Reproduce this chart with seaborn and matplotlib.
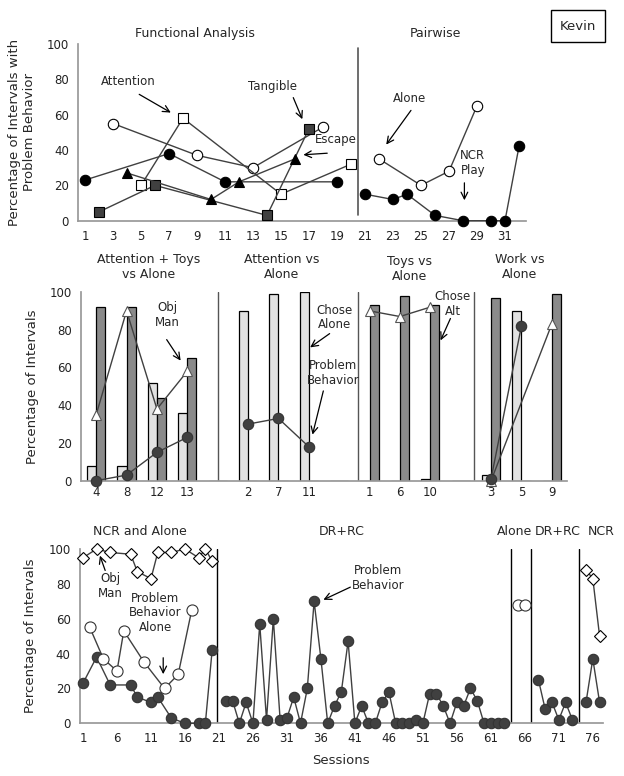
import numpy as np
import pandas as pd
import matplotlib
matplotlib.use("Agg")
import matplotlib.pyplot as plt
import seaborn as sns

sns.set_theme(style="white")
plt.rcParams["font.family"] = ["DejaVu Sans"]
FS = 8.5

# ---- top: functional analysis + pairwise ----
fa_play_x = [1, 7, 11, 19]
fa_play_y = [23, 38, 22, 22]
fa_alone_x = [3, 9, 13, 18]
fa_alone_y = [55, 37, 30, 53]
fa_attn_x = [5, 8, 15, 20]
fa_attn_y = [20, 58, 15, 32]
fa_tang_x = [2, 6, 14, 17]
fa_tang_y = [5, 20, 3, 52]
fa_esc_x = [4, 10, 12, 16]
fa_esc_y = [27, 12, 22, 35]
pw_alone_x = [22, 25, 27, 29]
pw_alone_y = [35, 20, 28, 65]
pw_ncr_x = [21, 23, 24, 26, 28, 30, 31, 32]
pw_ncr_y = [15, 12, 15, 3, 0, 0, 0, 42]

# ---- middle: choice assessment ----
choice_labels = ["4", "8", "12", "13", "", "2", "7", "11", "", "1", "6", "10", "", "3", "5", "9"]
chose_alone = [8, 8, 52, 36, 0, 90, 99, 100, 0, 0, 0, 1, 0, 3, 90, 0]
chose_alt = [92, 92, 44, 65, 0, 0, 0, 0, 0, 93, 98, 93, 0, 97, 0, 99]
objman_groups = [([0, 1, 2, 3], [35, 90, 38, 58]),
                 ([9, 10, 11], [90, 87, 92]),
                 ([13, 15], [0, 83])]
pb_groups = [([0, 1, 2, 3], [0, 3, 15, 23]),
             ([5, 6, 7], [30, 33, 18]),
             ([13, 14], [1, 82])]

# ---- bottom: treatment ----
ncr_obj_x = [1, 3, 5, 8, 9, 11, 12, 14, 16, 18, 19, 20]
ncr_obj_y = [95, 100, 98, 97, 87, 83, 98, 98, 100, 95, 100, 93]
ncr_pb_x = [1, 3, 5, 8, 9, 11, 12, 14, 16, 18, 19, 20]
ncr_pb_y = [23, 38, 22, 22, 15, 12, 15, 3, 0, 0, 0, 42]
alone1_x = [2, 4, 6, 7, 10, 13, 15, 17]
alone1_y = [55, 37, 30, 53, 35, 20, 28, 65]
drrc1_x = list(range(22, 64))
drrc1_y = [13, 13, 0, 12, 0, 57, 2, 60, 2, 3, 15, 0, 20, 70, 37, 0, 10, 18, 47, 0,
           10, 0, 0, 12, 18, 0, 0, 0, 2, 0, 17, 17, 10, 0, 12, 10, 20, 13, 0, 0, 0, 0]
alone2_x = [65, 66]
alone2_y = [68, 68]
drrc2_x = [68, 69, 70, 71, 72, 73]
drrc2_y = [25, 8, 12, 2, 12, 2]
ncr2_pb_x = [75, 76, 77]
ncr2_pb_y = [12, 37, 12]
ncr2_obj_x = [75, 76, 77]
ncr2_obj_y = [88, 83, 50]

LINE = "#404040"
DARK = "#404040"


def series(ax, x, y, marker, fc, ms=7.5, ec="black"):
    sns.lineplot(x=x, y=y, ax=ax, color=LINE, lw=1, marker=marker, markersize=ms,
                 markerfacecolor=fc, markeredgecolor=ec, markeredgewidth=0.8,
                 legend=False, zorder=4, clip_on=False)


def arrow(ax, text, xytext, xy, tail, ha="center"):
    ax.text(xytext[0], xytext[1], text, ha=ha, va="center", fontsize=FS, linespacing=1.15)
    ax.annotate("", xy=xy, xytext=tail,
                arrowprops=dict(arrowstyle="->", color="black", lw=0.9, mutation_scale=12))


def style(ax):
    sns.despine(ax=ax)
    ax.spines["left"].set_color("#999999")
    ax.spines["bottom"].set_color("#999999")
    ax.tick_params(labelsize=FS, colors="#222222", length=3, width=0.6)
    ax.tick_params(axis="x", colors="#999999", labelcolor="#222222")
    ax.set_ylim(0, 100)
    ax.set_yticks([0, 20, 40, 60, 80, 100])


fig = plt.figure(figsize=(6.24, 7.76), dpi=100)
W, H = 624, 776
ax1 = fig.add_axes([78 / W, 1 - 220.7 / H, 448 / W, 176.7 / H])
ax2 = fig.add_axes([81 / W, 1 - 480.7 / H, 486 / W, 188.7 / H])
ax3 = fig.add_axes([79.6 / W, 1 - 723.3 / H, 523.4 / W, 174.3 / H])

# ---- top ----
series(ax1, fa_play_x, fa_play_y, "o", "black")
series(ax1, fa_alone_x, fa_alone_y, "o", "white")
series(ax1, fa_attn_x, fa_attn_y, "s", "white")
series(ax1, fa_tang_x, fa_tang_y, "s", DARK, ms=7)
series(ax1, fa_esc_x, fa_esc_y, "^", "black", ms=7)
series(ax1, pw_alone_x, pw_alone_y, "o", "white")
series(ax1, pw_ncr_x, pw_ncr_y, "o", "black")
style(ax1)
ax1.set_xlim(0.5, 32.5)
ax1.set_xticks(range(1, 33))
ax1.set_xticklabels([str(i) if i % 2 else "" for i in range(1, 33)])
ax1.axvline(20.5, ymin=0.03, ymax=0.98, color="#555555", lw=1.2)
ax1.set_ylabel("Percentage of Intervals with\nProblem Behavior", fontsize=FS + 1, labelpad=8)
ax1.text(8.86, 105.7, "Functional Analysis", ha="center", va="center", fontsize=FS + 0.5)
ax1.text(26, 105.7, "Pairwise", ha="center", va="center", fontsize=FS + 0.5)
arrow(ax1, "Attention", (4.07, 78.5), (7.3, 60.4), (4.7, 72.3))
arrow(ax1, "Tangible", (14.36, 76.2), (16.6, 56), (15.8, 71.1))
arrow(ax1, "Escape", (18.9, 45.7), (16.4, 37.2), (18.5, 38.3))
arrow(ax1, "Alone", (24.2, 69.4), (22.4, 41.8), (24.4, 63.7))
arrow(ax1, "NCR\nPlay", (28.7, 32.6), (28.1, 10), (28.1, 23))
fig.text(578 / W, 1 - 26 / H, "Kevin", ha="center", va="center", fontsize=FS + 1,
         bbox=dict(boxstyle="square,pad=0.7", fc="white", ec="black", lw=1))

# ---- middle ----
slots = np.arange(len(choice_labels))
bw = 0.3
ax2.bar(slots - bw / 2, chose_alone, width=bw, color="#e2e2e2", edgecolor="black", lw=0.9, zorder=2)
ax2.bar(slots + bw / 2, chose_alt, width=bw, color="#8a8a8a", edgecolor="black", lw=0.9, zorder=2)
for idx, vals in objman_groups:
    series(ax2, list(slots[idx]), vals, "^", "white", ms=7, ec="#555555")
for idx, vals in pb_groups:
    series(ax2, list(slots[idx]), vals, "o", DARK, ms=7.5, ec="#333333")
style(ax2)
ax2.set_xlim(-0.5, 15.5)
ax2.set_xticks(slots)
ax2.set_xticklabels(choice_labels)
ax2.tick_params(axis="x", which="major", length=0)
ax2.set_xticks(np.arange(-0.5, 16, 1), minor=True)
ax2.tick_params(axis="x", which="minor", length=4, colors="#999999", width=0.6)
for xv in [4.0, 8.62, 12.43]:
    ax2.axvline(xv, color="#555555", lw=1)
ax2.set_ylabel("Percentage of Intervals", fontsize=FS + 1, labelpad=8)
ax2.text(1.71, 113, "Attention + Toys\nvs Alone", ha="center", va="center", fontsize=FS + 0.5)
ax2.text(6.1, 113, "Attention vs\nAlone", ha="center", va="center", fontsize=FS + 0.5)
ax2.text(10.33, 112, "Toys vs\nAlone", ha="center", va="center", fontsize=FS + 0.5)
ax2.text(13.95, 113, "Work vs\nAlone", ha="center", va="center", fontsize=FS + 0.5)
arrow(ax2, "Obj\nMan", (2.33, 87.8), (2.83, 62.4), (2.27, 76))
arrow(ax2, "Chose\nAlone", (7.86, 86.6), (6.97, 69.8), (7.76, 78.8))
arrow(ax2, "Problem\nBehavior", (7.8, 57), (7.1, 23), (7.5, 49))
arrow(ax2, "Chose\nAlt", (11.74, 93.6), (11.3, 73), (11.7, 87.3))

# ---- bottom ----
series(ax3, ncr_obj_x, ncr_obj_y, "D", "white", ms=6)
series(ax3, ncr_pb_x, ncr_pb_y, "o", DARK, ec="#333333")
series(ax3, alone1_x, alone1_y, "o", "white", ms=8, ec="#333333")
series(ax3, drrc1_x, drrc1_y, "o", DARK, ec="#333333")
series(ax3, alone2_x, alone2_y, "o", "white", ms=8, ec="#333333")
series(ax3, drrc2_x, drrc2_y, "o", DARK, ec="#333333")
series(ax3, ncr2_pb_x, ncr2_pb_y, "o", DARK, ec="#333333")
series(ax3, ncr2_obj_x, ncr2_obj_y, "D", "white", ms=6)
style(ax3)
ax3.set_xlim(0.5, 77.5)
ax3.set_xticks(range(1, 78))
ax3.set_xticklabels([str(i) if (i - 1) % 5 == 0 else "" for i in range(1, 78)])
for xv in [20.7, 63.9, 66.9, 74.0]:
    ax3.axvline(xv, color="black", lw=1)
ax3.set_ylabel("Percentage of Intervals", fontsize=FS + 1, labelpad=8)
ax3.set_xlabel("Sessions", fontsize=FS + 1, labelpad=6)
for tx, lab in [(9.4, "NCR and Alone"), (39.1, "DR+RC"), (64.5, "Alone"), (70.85, "DR+RC"), (77.2, "NCR")]:
    ax3.text(tx, 110.3, lab, ha="center", va="center", fontsize=FS + 0.5)
arrow(ax3, "Obj\nMan", (4.97, 78.8), (3.35, 97.7), (4.4, 86.2))
arrow(ax3, "Problem\nBehavior\nAlone", (11.6, 63.3), (12.8, 26.6), (12.8, 39.2))
arrow(ax3, "Problem\nBehavior", (44.4, 83.4), (36, 70.2), (40.7, 78.8))

fig.savefig("out.png", dpi=100)
